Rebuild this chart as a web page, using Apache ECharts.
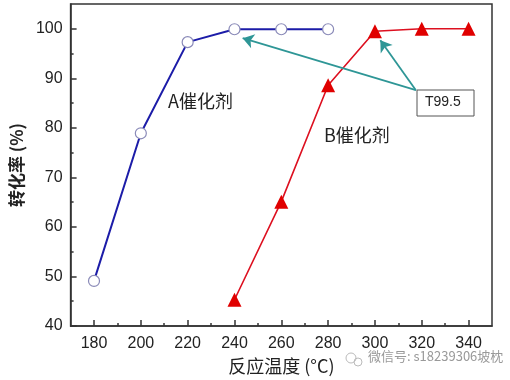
<!DOCTYPE html>
<html>
<head>
<meta charset="utf-8">
<script src="https://cdn.jsdelivr.net/npm/echarts@6/dist/echarts.min.js"></script>
<style>html,body{margin:0;padding:0;background:#fff}#c{width:510px;height:380px}</style>
</head>
<body>
<div id="c"></div>
<script>
var tempA = [180, 200, 220, 240, 260, 280];
var convA = [49.1, 78.9, 97.3, 99.9, 99.9, 99.9];
var tempB = [240, 260, 280, 300, 320, 340];
var convB = [45.3, 65.1, 88.6, 99.5, 100, 100];
var xLabels = [180, 200, 220, 240, 260, 280, 300, 320, 340];
var xMinor = [190, 210, 230, 250, 270, 290, 310, 330];
var yLabels = [40, 50, 60, 70, 80, 90, 100];
var yMinor = [45, 55, 65, 75, 85, 95];
var arrowStart = [317.5, 87.6];
var arrowEndA = [243.5, 98.1];
var arrowEndB = [302.3, 97.7];

var font = '"Liberation Sans", Arial, sans-serif';
var cjk = '"Noto Sans CJK SC", "Liberation Sans", sans-serif';
var axisColor = '#333';

var chart = echarts.init(document.getElementById('c'));
chart.setOption({
  animation: false,
  backgroundColor: '#fff',
  grid: {left: 62, right: 18, top: 4, bottom: 54, show: true, borderColor: axisColor, borderWidth: 1.5, backgroundColor: 'transparent'},
  xAxis: [{
    type: 'value', min: 170, max: 350,
    name: '反应温度 (°C)', nameLocation: 'middle', nameGap: 27,
    nameTextStyle: {fontFamily: cjk, fontSize: 18, color: '#222'},
    axisLine: {show: true, lineStyle: {color: axisColor, width: 1.5}},
    axisTick: {show: true, inside: true, length: 6, customValues: xLabels, lineStyle: {color: axisColor, width: 1.5}},
    axisLabel: {customValues: xLabels, fontFamily: font, fontSize: 16, color: '#222', margin: 10},
    splitLine: {show: false}
  }, {
    type: 'value', min: 170, max: 350, position: 'bottom',
    axisLine: {show: false},
    axisTick: {show: true, inside: true, length: 3, customValues: xMinor, lineStyle: {color: axisColor, width: 1.5}},
    axisLabel: {show: false},
    splitLine: {show: false}
  }],
  yAxis: [{
    type: 'value', min: 40, max: 105,
    name: '转化率 (%)', nameLocation: 'middle', nameGap: 40,
    nameTextStyle: {fontFamily: cjk, fontSize: 17, fontWeight: 'bold', color: '#222'},
    axisLine: {show: true, lineStyle: {color: axisColor, width: 1.5}},
    axisTick: {show: true, inside: true, length: 6, customValues: yLabels, lineStyle: {color: axisColor, width: 1.5}},
    axisLabel: {customValues: yLabels, fontFamily: font, fontSize: 16, color: '#222', margin: 8},
    splitLine: {show: false}
  }, {
    type: 'value', min: 40, max: 105, position: 'left',
    axisLine: {show: false},
    axisTick: {show: true, inside: true, length: 3, customValues: yMinor, lineStyle: {color: axisColor, width: 1.5}},
    axisLabel: {show: false},
    splitLine: {show: false}
  }],
  series: [{
    name: 'A', type: 'line',
    data: tempA.map(function (t, i) { return [t, convA[i]]; }),
    symbol: 'circle', symbolSize: 11,
    lineStyle: {color: '#1c1ca8', width: 2},
    itemStyle: {color: '#fff', borderColor: '#8a8ab8', borderWidth: 1.2},
    z: 3,
    markLine: {
      silent: true, symbol: ['none', 'arrow'], symbolSize: 11,
      lineStyle: {color: '#2e9696', width: 1.8, type: 'solid'},
      itemStyle: {color: '#2e9696'},
      label: {show: false},
      emphasis: {disabled: true},
      data: [
        [{coord: arrowStart}, {coord: arrowEndA}],
        [{coord: arrowStart}, {coord: arrowEndB}]
      ]
    }
  }, {
    name: 'B', type: 'line',
    data: tempB.map(function (t, i) { return [t, convB[i]]; }),
    symbol: 'triangle', symbolSize: 14,
    lineStyle: {color: '#dd1020', width: 1.6},
    itemStyle: {color: '#e00000'},
    z: 3
  }],
  graphic: [
    {type: 'text', left: 168, top: 92, style: {text: 'A催化剂', font: '18px ' + cjk, fill: '#222'}},
    {type: 'text', left: 324, top: 126, style: {text: 'B催化剂', font: '18px ' + cjk, fill: '#222'}},
    {type: 'rect', shape: {x: 417, y: 90, width: 57, height: 26}, style: {fill: '#fff', stroke: '#555', lineWidth: 1}, z: 10},
    {type: 'text', left: 425, top: 95, z: 11, style: {text: 'T99.5', font: '14px ' + font, fill: '#222'}},
    {type: 'circle', shape: {cx: 351, cy: 358, r: 5}, style: {fill: 'none', stroke: '#bbb', lineWidth: 1}, z: 10},
    {type: 'circle', shape: {cx: 358, cy: 362, r: 4}, style: {fill: 'none', stroke: '#bbb', lineWidth: 1}, z: 10},
    {type: 'text', left: 368, top: 350, z: 10, style: {text: '微信号: s18239306坡枕', font: '13px ' + cjk, fill: '#999'}}
  ]
});
</script>
</body>
</html>
